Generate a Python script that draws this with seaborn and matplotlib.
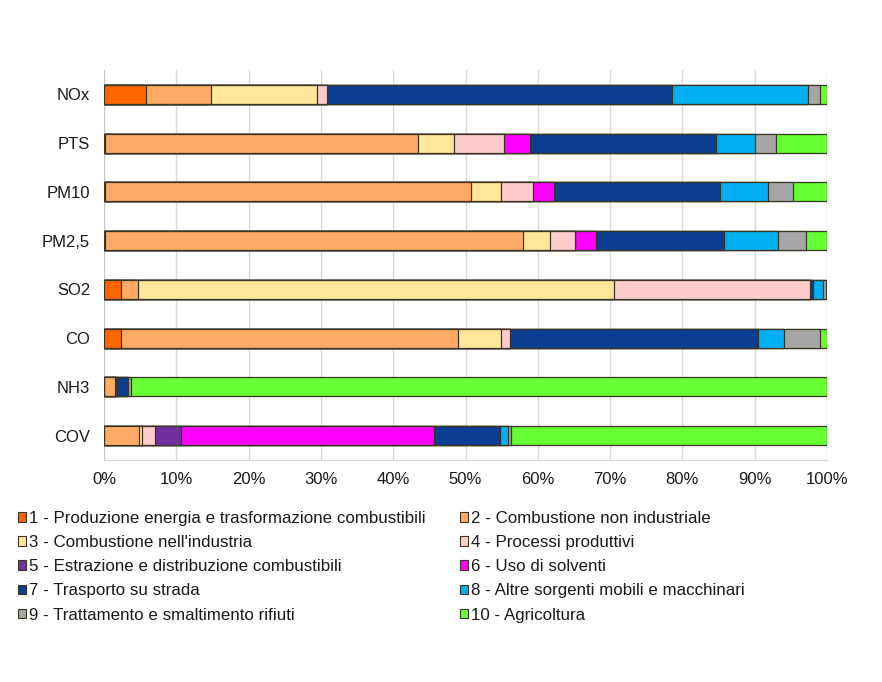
import numpy as np
import pandas as pd
import matplotlib
matplotlib.use("Agg")
import matplotlib.pyplot as plt
import seaborn as sns
from matplotlib.patches import Patch

# Inquinanti (dall'alto in basso)
inquinanti = ["NOx", "PTS", "PM10", "PM2,5", "SO2", "CO", "NH3", "COV"]

settori = [
    "1 - Produzione energia e trasformazione combustibili",
    "2 - Combustione non industriale",
    "3 - Combustione nell'industria",
    "4 - Processi produttivi",
    "5 - Estrazione e distribuzione combustibili",
    "6 - Uso di solventi",
    "7 - Trasporto su strada",
    "8 - Altre sorgenti mobili e macchinari",
    "9 - Trattamento e smaltimento rifiuti",
    "10 - Agricoltura",
]

colori = ["#FF6600", "#FFAA66", "#FFE699", "#FFCCCC", "#7030A0",
          "#FF00FF", "#0B3D91", "#00B0F0", "#A6A6A6", "#66FF33"]

# Quote percentuali per settore (stessa sequenza di inquinanti)
s1 = [5.8, 0.15, 0.2, 0.2, 2.4, 2.3, 0.0, 0.0]
s2 = [9.05, 43.25, 50.5, 57.7, 2.3, 46.7, 1.5, 4.85]
s3 = [14.55, 5.0, 4.2, 3.8, 65.8, 5.9, 0.1, 0.45]
s4 = [1.5, 6.9, 4.4, 3.4, 27.2, 1.3, 0.25, 1.7]
s5 = [0.0, 0.0, 0.0, 0.0, 0.0, 0.0, 0.0, 3.6]
s6 = [0.0, 3.6, 2.9, 2.9, 0.0, 0.0, 0.0, 35.1]
s7 = [47.6, 25.7, 23.0, 17.7, 0.3, 34.2, 1.35, 9.1]
s8 = [18.9, 5.4, 6.6, 7.5, 1.5, 3.7, 0.1, 1.1]
s9 = [1.6, 2.9, 3.5, 3.9, 0.3, 5.0, 0.5, 0.35]
s10 = [1.0, 7.1, 4.7, 2.9, 0.2, 0.9, 96.2, 43.75]

valori = np.array([s1, s2, s3, s4, s5, s6, s7, s8, s9, s10])
# normalizza a 100%
valori = valori / valori.sum(axis=0) * 100
cumulati = np.cumsum(valori, axis=0)

sns.set_style("white")
plt.rcParams["font.family"] = ["Liberation Sans", "DejaVu Sans"]

fig = plt.figure(figsize=(8.82, 6.82), dpi=100)
ax = fig.add_axes([104 / 882, 1 - 460 / 682, 723 / 882, 390 / 682])

# barre sovrapposte: dal cumulato totale al primo settore
for i in range(len(settori) - 1, -1, -1):
    df = pd.DataFrame({"inquinante": inquinanti, "valore": cumulati[i]})
    sns.barplot(data=df, x="valore", y="inquinante", order=inquinanti,
                color=colori[i], saturation=1, width=0.39,
                edgecolor="#3b3526", linewidth=0.9, ax=ax, zorder=3)

ax.set_xlim(0, 100)
ax.set_ylim(7.5, -0.5)
ax.set_xticks(np.arange(0, 101, 10))
ax.set_xticklabels([f"{t}%" for t in range(0, 101, 10)], fontsize=12)
ax.tick_params(axis="y", labelsize=12, length=0, pad=10, labelcolor="#1a1a1a")
ax.tick_params(axis="x", length=0, pad=9, labelcolor="#1a1a1a")
ax.set_xlabel("")
ax.set_ylabel("")
ax.grid(axis="x", color="#d9d9d9", linewidth=1, zorder=0)
ax.grid(axis="y", visible=False)
for lato in ["top", "right"]:
    ax.spines[lato].set_visible(False)
ax.spines["left"].set_color("#c8c8c8")
ax.spines["bottom"].set_color("#d9d9d9")

# legenda a due colonne, ordine per righe
ordine = [0, 2, 4, 6, 8, 1, 3, 5, 7, 9]
handles = [Patch(facecolor=colori[k], edgecolor="#3b3526", linewidth=0.8) for k in ordine]
labels = [settori[k] for k in ordine]
fig.legend(handles, labels, loc="upper left", bbox_to_anchor=(18 / 882, 1 - 511 / 682),
           ncol=2, frameon=False, fontsize=12.2, handlelength=0.5, handleheight=0.5,
           handletextpad=0.15, labelspacing=0.54, columnspacing=2.0, borderpad=0,
           borderaxespad=0, labelcolor="#1a1a1a")

fig.savefig("out.png", dpi=100)
